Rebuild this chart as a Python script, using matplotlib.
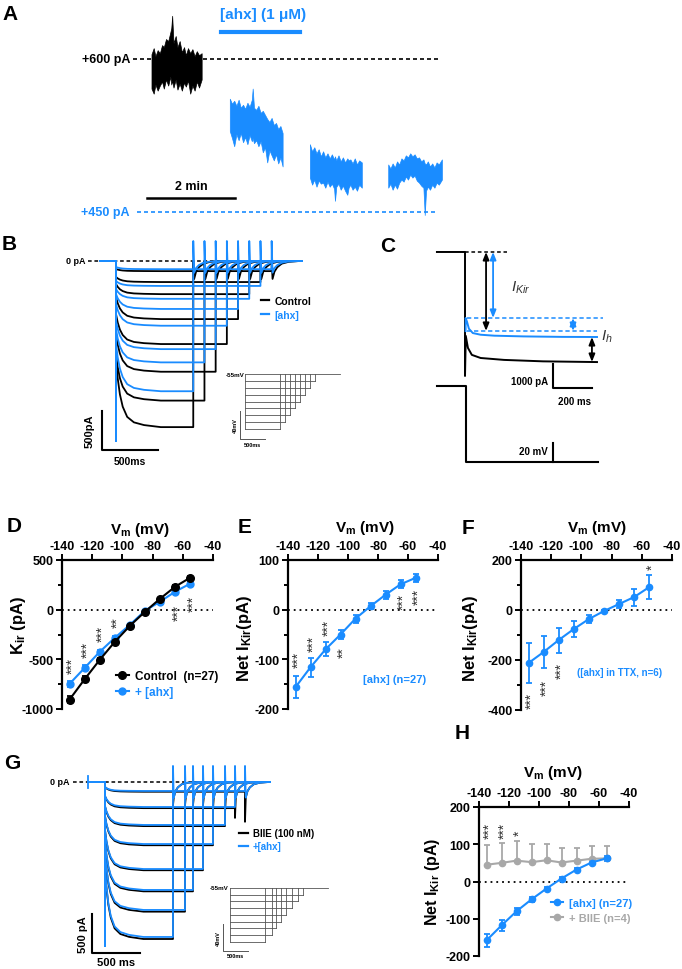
import numpy as np
import matplotlib
matplotlib.use("Agg")
import matplotlib.pyplot as plt
from matplotlib.lines import Line2D
from matplotlib.transforms import offset_copy

plt.rcParams["font.family"] = ["Liberation Sans", "DejaVu Sans"]
plt.rcParams["font.weight"] = "bold"
plt.rcParams["axes.unicode_minus"] = False
plt.rcParams["mathtext.fontset"] = "custom"
plt.rcParams["mathtext.rm"] = "Liberation Sans:bold"
plt.rcParams["mathtext.it"] = "Liberation Sans:italic:normal"
plt.rcParams["mathtext.bf"] = "Liberation Sans:bold"

W, H = 682, 970
BLUE = "#1a8cff"
GRAY = "#a8a8a8"

# ---------------- A: holding current envelopes (min, pA)
a_ctrl_t = [0.42, 0.47, 0.51, 0.56, 0.61, 0.66, 0.70, 0.75, 0.80, 0.85, 0.87, 0.89, 0.92,
            0.97, 1.01, 1.06, 1.11, 1.16, 1.20, 1.25, 1.30, 1.35, 1.40, 1.45, 1.50, 1.56]
a_ctrl_hi = [605, 611, 603, 609, 606, 614, 612, 620, 618, 627, 631, 643, 616,
             623, 612, 618, 607, 612, 604, 611, 606, 610, 603, 608, 604, 606]
a_ctrl_lo = [571, 566, 575, 569, 574, 578, 571, 580, 574, 583, 575, 579, 572,
             580, 570, 576, 569, 577, 573, 579, 566, 574, 569, 578, 572, 580]
a_b1_t = [2.20, 2.25, 2.30, 2.35, 2.40, 2.45, 2.50, 2.55, 2.60, 2.65, 2.70, 2.72, 2.75,
          2.80, 2.85, 2.90, 2.95, 3.00, 3.05, 3.10, 3.15, 3.20, 3.25, 3.30, 3.35, 3.40]
a_b1_hi = [561, 556, 559, 554, 560, 552, 555, 551, 557, 553, 560, 571, 552,
           550, 554, 547, 549, 545, 541, 538, 542, 535, 537, 531, 534, 527]
a_b1_lo = [529, 522, 514, 526, 520, 527, 518, 523, 516, 525, 519, 522, 517,
           520, 514, 519, 508, 513, 498, 510, 505, 500, 506, 497, 503, 494]
a_b2_t = [4.02, 4.07, 4.12, 4.17, 4.22, 4.27, 4.32, 4.37, 4.42, 4.47, 4.52, 4.57, 4.59,
          4.62, 4.67, 4.72, 4.77, 4.82, 4.87, 4.90, 4.94, 4.99, 5.04, 5.09, 5.14, 5.20]
a_b2_hi = [516, 509, 513, 507, 511, 504, 509, 503, 507, 502, 506, 501, 504,
           500, 505, 499, 503, 498, 502, 500, 501, 497, 502, 496, 500, 498]
a_b2_lo = [483, 476, 481, 474, 480, 477, 478, 473, 479, 474, 477, 472, 460,
           474, 477, 471, 475, 470, 466, 473, 476, 471, 474, 470, 476, 473]
a_b3_t = [5.80, 5.85, 5.90, 5.95, 6.00, 6.05, 6.10, 6.15, 6.20, 6.25, 6.30, 6.35, 6.40,
          6.45, 6.50, 6.55, 6.60, 6.63, 6.66, 6.70, 6.75, 6.80, 6.85, 6.90, 6.95, 7.02]
a_b3_hi = [496, 492, 497, 493, 499, 496, 502, 500, 505, 503, 507, 504, 506,
           502, 503, 499, 501, 497, 496, 499, 494, 497, 493, 498, 496, 501]
a_b3_lo = [473, 477, 471, 476, 472, 478, 481, 479, 484, 481, 486, 483, 485,
           480, 478, 475, 473, 446, 470, 474, 471, 476, 473, 478, 476, 481]

relax_dt = [0, 15, 35, 60, 100, 160, 250, 400]          # ms after step onset
relax_frac = [1.0, 0.72, 0.48, 0.3, 0.15, 0.07, 0.03, 0.0]
tail_dt = [8, 25, 50, 90, 150, 250]                     # ms after step end
tail_frac = [1.0, 0.6, 0.35, 0.15, 0.05, 0.0]

# ---------------- B: step traces (steps -135 ... -65 mV)
b_end = [690, 790, 890, 990, 1090, 1190, 1290, 1390]
b_ctrl_i0 = [-1256, -1192, -936, -679, -461, -295, -205, -103]
b_ctrl_ss = [-2130, -1790, -1420, -1065, -745, -425, -270, -130]
b_ahx_i0 = [-1064, -872, -769, -551, -423, -359, -256, -77]
b_ahx_ss = [-1670, -1300, -1130, -830, -615, -485, -320, -105]
step_mv = [-135, -125, -115, -105, -95, -85, -75, -65]

# ---------------- C: example sweep (ms, pA / mV)
c_ctrl_t = [-144, 0, 0, 4, 15, 35, 80, 200, 400, 677]
c_ctrl_i = [0, 0, -5170, -3500, -4000, -4290, -4420, -4500, -4560, -4590]
c_ahx_t = [3, 3, 10, 20, 40, 80, 150, 300, 500, 677]
c_ahx_i = [-3300, -2752, -2900, -3200, -3380, -3450, -3490, -3520, -3540, -3545]
c_v_t = [-144, 3, 3, 682]
c_v = [-55, -55, -135, -135]

# ---------------- G: BIIE traces
g_end = [707, 832, 915, 1019, 1123, 1248, 1352, 1456]
g_ctrl_i0 = [-1100, -905, -765, -620, -440, -312, -182, -66]
g_ctrl_ss = [-2010, -1660, -1400, -1130, -810, -565, -335, -125]
g_ahx_i0 = [-1088, -896, -755, -614, -435, -307, -179, -64]
g_ahx_ss = [-1984, -1638, -1382, -1114, -794, -550, -320, -115]
g_ctrl_tail = [-300, -300, -300, -300, -350, -400, -460, -510]

# ---------------- I-V data
iv_v = [-135, -125, -115, -105, -95, -85, -75, -65, -55]
d_ctrl = [-905, -700, -505, -323, -162, -20, 111, 232, 323]
d_ctrl_err = [35, 30, 22, 18, 12, 10, 10, 12, 14]
d_ahx = [-747, -586, -424, -283, -152, -10, 81, 182, 263]
d_ahx_err = [30, 25, 20, 15, 12, 10, 10, 12, 14]
e_net = [-156, -116, -80, -50, -18, 7, 30, 51, 64]
e_err = [22, 19, 14, 10, 8, 6, 8, 8, 8]
f_net = [-212, -168, -120, -76, -36, -4, 24, 52, 92]
f_err = [80, 65, 50, 32, 16, 5, 16, 34, 48]
h_ahx = [-158, -118, -80, -48, -19, 8, 32, 51, 62]
h_ahx_err = [18, 14, 10, 7, 5, 4, 4, 5, 6]
h_biie = [45, 50, 56, 52, 57, 51, 56, 61, 62]
h_biie_err = [53, 53, 54, 48, 43, 39, 34, 34, 34]

d_star_v = [-135, -125, -115, -105, -65, -55]
d_star_y = [-556, -394, -232, -121, -20, 71]
d_star_s = ["***", "***", "***", "**", "***", "***"]
e_star_v = [-135, -125, -115, -105, -65, -55]
e_star_y = [-99, -67, -34, -85, 18, 28]
e_star_s = ["***", "***", "***", "**", "***", "***"]
f_star_v = [-135, -125, -115, -55]
f_star_y = [-360, -307, -238, 174]
f_star_s = ["***", "***", "***", "*"]
h_star_v = [-135, -125, -115]
h_star_y = [139, 139, 131]
h_star_s = ["***", "***", "*"]

fig = plt.figure(figsize=(W / 100, H / 100), dpi=100)


def px_axes(x0, y0, x1, y1):
    ax = fig.add_axes([x0 / W, 1 - y1 / H, (x1 - x0) / W, (y1 - y0) / H])
    ax.patch.set_alpha(0)
    return ax


def ftext(x, y, s, **kw):
    kw.setdefault("ha", "center")
    kw.setdefault("va", "center")
    fig.text(x / W, 1 - y / H, s, **kw)


def step_trace(end, i0, iss, spike_lo, spike_hi, tail_lo, t_pre, t_stop):
    t = [t_pre, 0, 0, 0]
    y = [0, 0, spike_lo, i0]
    for dt, f in zip(relax_dt[1:], relax_frac[1:]):
        if dt < end:
            t.append(dt)
            y.append(iss + (i0 - iss) * f)
    t += [end, end]
    y += [iss, spike_hi]
    for dt, f in zip(tail_dt, tail_frac):
        t.append(end + dt)
        y.append(tail_lo * f)
    t.append(t_stop)
    y.append(0)
    return t, y


def protocol(ax, ends, color="#555555"):
    ax.plot([0, max(ends) + 500], [-55, -55], color=color, lw=0.6)
    ax.plot([0, 0], [-55, min(step_mv)], color=color, lw=0.6)
    for e, v in zip(ends, step_mv):
        ax.plot([0, e], [v, v], color=color, lw=0.6)
        ax.plot([e, e], [v, -55], color=color, lw=0.6)


# ================= A
ax_a = px_axes(0, 0, 682, 225)
ax_a.axis("off")
ax_a.set_xlim(-3.023, 12.477)
ax_a.set_ylim(437.1, 659.6)
ax_a.plot([0, 6.93], [600, 600], color="k", lw=1.2, dashes=(2.4, 1.8))
ax_a.plot([0.09, 6.93], [449, 449], color=BLUE, lw=1.2, dashes=(2.4, 1.8))
ax_a.fill_between(a_ctrl_t, a_ctrl_lo, a_ctrl_hi, color="k", lw=0.5)
for t, lo, hi in [(a_b1_t, a_b1_lo, a_b1_hi), (a_b2_t, a_b2_lo, a_b2_hi), (a_b3_t, a_b3_lo, a_b3_hi)]:
    ax_a.fill_between(t, lo, hi, color=BLUE, lw=0.5)
ax_a.text(-0.07, 600, "+600 pA", ha="right", va="center", fontsize=9)
ax_a.text(-0.07, 449, "+450 pA", ha="right", va="center", fontsize=9, color=BLUE)
ax_a.plot([0.32, 2.32], [463, 463], color="k", lw=1.8)
ax_a.text(1.32, 475, "2 min", ha="center", va="center", fontsize=9)
ax_a.plot([2.0, 3.8], [627, 627], color=BLUE, lw=3)
ax_a.text(2.95, 645, "[ahx] (1 \u03bcM)", ha="center", va="center", fontsize=11, color=BLUE)

# ================= B
ax_b = px_axes(60, 235, 345, 470)
ax_b.axis("off")
ax_b.set_xlim(-500, 2045)
ax_b.set_ylim(-2667, 346)
ax_b.plot([-250, 1660], [0, 0], color="k", lw=1.1, dashes=(2.4, 1.8))
for k in range(8):
    t, y = step_trace(b_end[k], b_ctrl_i0[k], b_ctrl_ss[k], -2308, 0, -230, -143, 1660)
    ax_b.plot(t, y, color="k", lw=1.3)
for k in range(8):
    t, y = step_trace(b_end[k], b_ahx_i0[k], b_ahx_ss[k], -2308, 256, -150, -143, 1660)
    ax_b.plot(t, y, color=BLUE, lw=1.3)
ax_b.text(-270, 0, "0 pA", ha="right", va="center", fontsize=6.5)
ax_b.plot([-125, -125, 375], [-1923, -2423, -2423], color="k", lw=1.5)
ax_b.text(-232, -2173, "500pA", rotation=90, ha="center", va="center", fontsize=8)
ax_b.text(125, -2570, "500ms", ha="center", va="center", fontsize=7.5)
ax_b.legend(handles=[Line2D([], [], color="k", lw=1.6), Line2D([], [], color=BLUE, lw=1.6)],
            labels=["Control", "[ahx]"], loc="upper left",
            bbox_to_anchor=(261 / W, 1 - 297 / H), bbox_transform=fig.transFigure,
            frameon=False, fontsize=7.5, handlelength=0.8, handletextpad=0.5,
            labelspacing=0.35, borderpad=0, borderaxespad=0, labelcolor="linecolor")

ax_bi = px_axes(215, 365, 345, 470)
ax_bi.axis("off")
ax_bi.set_xlim(-600, 2000)
ax_bi.set_ylim(-192.7, -40.5)
protocol(ax_bi, b_end)
ax_bi.text(-20, -55, "-55mV", ha="right", va="center", fontsize=4.5)
ax_bi.plot([-100, -100, 400], [-109, -149, -149], color="#555555", lw=0.7)
ax_bi.text(-190, -129, "40mV", rotation=90, ha="center", va="center", fontsize=4)
ax_bi.text(150, -153, "500ms", ha="center", va="top", fontsize=4)

# ================= C
ax_c = px_axes(380, 235, 682, 470)
ax_c.axis("off")
ax_c.set_xlim(-436, 1113)
ax_c.set_ylim(-9049, 750)
ax_c.plot([0, 215], [0, 0], color="k", lw=1.1, dashes=(2.4, 1.8))
ax_c.plot([10, 708], [-2752, -2752], color=BLUE, lw=1.1, dashes=(2.8, 1.8))
ax_c.plot([10, 677], [-3294, -3294], color=BLUE, lw=1.1, dashes=(2.8, 1.8))
ax_c.plot(c_ctrl_t, c_ctrl_i, color="k", lw=1.4)
ax_c.plot(c_ahx_t, c_ahx_i, color=BLUE, lw=1.4)
arrow_kw = dict(arrowstyle="<|-|>,head_width=0.18,head_length=0.45", lw=1.3, shrinkA=0, shrinkB=0)
for tx, ya, yb, col in [(108, 0, -3294, "k"), (144, 0, -2752, BLUE),
                        (554, -2752, -3294, BLUE), (651, -3545, -4587, "k")]:
    ax_c.annotate("", xy=(tx, yb), xytext=(tx, ya), arrowprops=dict(color=col, **arrow_kw))
ax_c.text(236, -1460, r"$I_{Kir}$", ha="left", va="center", fontsize=11, color="#333333")
ax_c.text(700, -3503, r"$I_h$", ha="left", va="center", fontsize=11, color="#333333")
ax_c.plot([451, 451, 651], [-4671, -5672, -5672], color="k", lw=1.5)
ax_c.text(426, -5380, "1000 pA", ha="right", va="center", fontsize=7)
ax_c.text(564, -6214, "200 ms", ha="center", va="center", fontsize=7)

ax_cv = px_axes(380, 370, 682, 470)
ax_cv.axis("off")
ax_cv.set_xlim(-436, 1113)
ax_cv.set_ylim(-142.4, -37.1)
ax_cv.plot(c_v_t, c_v, color="k", lw=1.5)
ax_cv.plot([451, 451], [-135, -115], color="k", lw=1.5)
ax_cv.text(426, -123, "20 mV", ha="right", va="center", fontsize=7)

# ================= G
ax_g = px_axes(0, 760, 345, 970)
ax_g.axis("off")
ax_g.set_xlim(-1092, 2496)
ax_g.set_ylim(-2394, 294)
ax_g.plot([-333, 1716], [0, 0], color="k", lw=1.1, dashes=(2.4, 1.8))
for k in range(8):
    t, y = step_trace(g_end[k], g_ctrl_i0[k], g_ctrl_ss[k], -2099, g_ctrl_tail[k], -200, -177, 1716)
    ax_g.plot(t, y, color="k", lw=1.3)
for k in range(8):
    t, y = step_trace(g_end[k], g_ahx_i0[k], g_ahx_ss[k], -2099, 205, -200, -177, 1716)
    ax_g.plot(t, y, color=BLUE, lw=1.3)
ax_g.plot([-177, -177], [77, -77], color=BLUE, lw=1.3)
ax_g.text(-364, 0, "0 pA", ha="right", va="center", fontsize=6.5)
ax_g.plot([-135, -135, 365], [-1690, -2190, -2190], color="k", lw=1.5)
ax_g.text(-229, -1940, "500 pA", rotation=90, ha="center", va="center", fontsize=8)
ax_g.text(115, -2304, "500 ms", ha="center", va="center", fontsize=8)
ax_g.legend(handles=[Line2D([], [], color="k", lw=1.6), Line2D([], [], color=BLUE, lw=1.6)],
            labels=["BIIE (100 nM)", "+[ahx]"], loc="upper left",
            bbox_to_anchor=(239 / W, 1 - 829 / H), bbox_transform=fig.transFigure,
            frameon=False, fontsize=7, handlelength=0.9, handletextpad=0.5,
            labelspacing=0.35, borderpad=0, borderaxespad=0, labelcolor="linecolor")

ax_gi = px_axes(195, 880, 345, 970)
ax_gi.axis("off")
ax_gi.set_xlim(-700, 2300)
ax_gi.set_ylim(-175, -41.7)
protocol(ax_gi, g_end)
ax_gi.text(-40, -55, "-55mV", ha="right", va="center", fontsize=4.5)
ax_gi.plot([-140, -140, 360], [-108, -148, -148], color="#555555", lw=0.7)
ax_gi.text(-230, -128, "40mV", rotation=90, ha="center", va="center", fontsize=4)
ax_gi.text(110, -152, "500ms", ha="center", va="top", fontsize=4)


# ================= I-V panels
def iv_axes(x0, y0, x1, y1, ylim, major, minor):
    ax = px_axes(x0, y0, x1, y1)
    ax.set_xlim(-140, -40)
    ax.set_ylim(*ylim)
    for s in ("right", "bottom"):
        ax.spines[s].set_visible(False)
    for s in ("left", "top"):
        ax.spines[s].set_linewidth(1.6)
    ax.xaxis.tick_top()
    ax.set_xticks(np.arange(-140, -39, 20))
    ax.set_yticks(major)
    ax.set_yticks(minor, minor=True)
    ax.tick_params(which="both", direction="out", width=1.4, labelsize=9, pad=1.5)
    ax.tick_params(which="major", length=4.5)
    ax.tick_params(which="minor", length=3)
    ax.axhline(0, color="k", ls=(0, (1, 2.2)), lw=1.3)
    return ax


def stars(ax, vs, ys, ss):
    # rotated asterisks sit high in the glyph box; nudge right to centre on the point
    tr = offset_copy(ax.transData, fig=fig, x=3, y=0, units="dots")
    for v, y, s in zip(vs, ys, ss):
        ax.text(v, y, s, rotation=90, ha="center", va="center", fontsize=10,
                color="#333333", fontweight="normal", transform=tr)


eb = dict(lw=1.5, elinewidth=1.3, capsize=2.5, capthick=1.3)

ax_d = iv_axes(62, 561, 213, 710, (-1000, 500), [-1000, -500, 0, 500], [-750, -250, 250])
ax_d.errorbar(iv_v, d_ahx, yerr=d_ahx_err, color=BLUE, marker="o", ms=5, **eb)
ax_d.errorbar(iv_v, d_ctrl, yerr=d_ctrl_err, color="k", marker="o", ms=5.5, **eb)
stars(ax_d, d_star_v, d_star_y, d_star_s)
ax_d.legend(handles=[Line2D([], [], color="k", marker="o", ms=5.5, lw=1.5),
                     Line2D([], [], color=BLUE, marker="o", ms=5, lw=1.5)],
            labels=["Control  (n=27)", "+ [ahx]"], loc="upper left",
            bbox_to_anchor=(116 / W, 1 - 671 / H), bbox_transform=fig.transFigure,
            frameon=False, fontsize=8.5, handlelength=1.1, handletextpad=0.5,
            labelspacing=0.35, borderpad=0, borderaxespad=0, labelcolor="linecolor")

ax_e = iv_axes(288, 561, 438, 710, (-200, 100), [-200, -100, 0, 100], [-150, -50, 50])
ax_e.errorbar(iv_v, e_net, yerr=e_err, color=BLUE, marker="o", ms=4.5, **eb)
stars(ax_e, e_star_v, e_star_y, e_star_s)
ftext(395, 680, "[ahx] (n=27)", fontsize=8, color=BLUE)

ax_f = iv_axes(521, 561, 672, 711, (-400, 200), [-400, -200, 0, 200], [-300, -100, 100])
ax_f.errorbar(iv_v, f_net, yerr=f_err, color=BLUE, marker="o", ms=4.5, **eb)
stars(ax_f, f_star_v, f_star_y, f_star_s)
ftext(620, 673, "([ahx] in TTX, n=6)", fontsize=7, color=BLUE)

ax_h = iv_axes(479, 808, 629, 957, (-200, 200), [-200, -100, 0, 100, 200], [])
ax_h.errorbar(iv_v, h_biie, yerr=[np.zeros(len(h_biie)), h_biie_err], color=GRAY,
              marker="o", ms=4.5, **eb)
ax_h.errorbar(iv_v, h_ahx, yerr=h_ahx_err, color=BLUE, marker="o", ms=4.5, **eb)
stars(ax_h, h_star_v, h_star_y, h_star_s)
ax_h.legend(handles=[Line2D([], [], color=BLUE, marker="o", ms=4.5, lw=1.5),
                     Line2D([], [], color=GRAY, marker="o", ms=4.5, lw=1.5)],
            labels=["[ahx] (n=27)", "+ BIIE (n=4)"], loc="upper left",
            bbox_to_anchor=(551 / W, 1 - 899 / H), bbox_transform=fig.transFigure,
            frameon=False, fontsize=8, handlelength=1.1, handletextpad=0.5,
            labelspacing=0.45, borderpad=0, borderaxespad=0, labelcolor="linecolor")

vm = r"V$_\mathrm{m}$ (mV)"
ftext(140, 530, vm, fontsize=11)
ftext(365, 528, vm, fontsize=11)
ftext(597, 528, vm, fontsize=11)
ftext(553, 773, vm, fontsize=11)
ftext(18, 625, r"K$_\mathrm{ir}$ (pA)", fontsize=12, rotation=90)
ftext(245, 638, r"Net I$_\mathrm{Kir}$(pA)", fontsize=12, rotation=90)
ftext(470, 638, r"Net I$_\mathrm{Kir}$(pA)", fontsize=12, rotation=90)
ftext(433, 882, r"Net I$_\mathrm{Kir}$ (pA)", fontsize=11.5, rotation=90)

for lab, x, y in [("A", 10, 15), ("B", 9, 245), ("C", 388, 247), ("D", 14, 527),
                  ("E", 245, 528), ("F", 468, 529), ("G", 12, 764), ("H", 462, 734)]:
    ftext(x, y, lab, fontsize=15)

fig.savefig("out.png", dpi=100)
